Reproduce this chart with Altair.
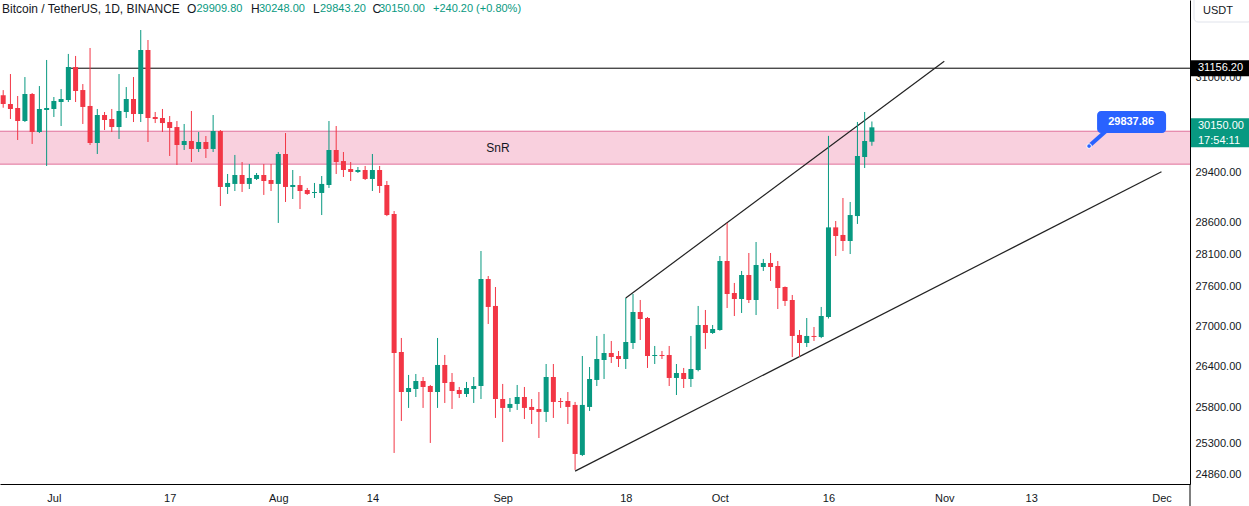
import altair as alt
import pandas as pd

# ---------------- data ----------------
dates = pd.date_range("2023-06-24", "2023-10-22", freq="D").strftime("%Y-%m-%d").tolist()

opens = [30690, 30543, 30476, 30256, 30713, 30072, 30442, 30459, 30577, 30611,
         31177, 30781, 30510, 29889, 30357, 30290, 30155, 30408, 30628, 30374,
         31473, 30324, 30307, 30239, 30155, 29856, 29922, 29790, 29906, 29790,
         30089, 29168, 29217, 29363, 29217, 29298, 29363, 29281, 29217, 29707,
         29168, 29200, 29119, 29071, 29071, 29200, 29773, 29591, 29460, 29412,
         29444, 29298, 29444, 29200, 28733, 26614, 26029, 26073, 26189, 26116,
         26029, 26423, 26175, 26058, 26000, 26073, 26116, 27715, 27303, 25928,
         25800, 25857, 25957, 25814, 25785, 25743, 26247, 25900, 25900, 25843,
         25135, 25814, 26204, 26496, 26599, 26555, 26511, 26747, 27212, 27121,
         26555, 26570, 26570, 26233, 26305, 26218, 26349, 27016, 26896, 26941,
         27993, 27500, 27409, 27777, 27394, 27900, 27962, 27916, 27592, 27394,
         26867, 26747, 26852, 26837, 27136, 28521, 28401, 28306, 28701, 29657,
         29909.8]
highs = [30780, 31056, 30679, 31004, 30730, 30849, 31299, 30662, 30798, 31404,
         31369, 30883, 31508, 30459, 30408, 30459, 31056, 30832, 31004, 31824,
         31648, 30408, 30459, 30340, 30256, 30206, 30425, 30072, 30005, 30357,
         30105, 29379, 29691, 29575, 29542, 29395, 29542, 29542, 29740, 30055,
         29444, 29346, 29152, 29233, 29346, 30256, 30172, 29740, 29575, 29493,
         29510, 29707, 29510, 29265, 28781, 26822, 26277, 26291, 26247, 26131,
         26822, 26570, 26305, 26102, 26175, 26247, 28149, 27761, 27592, 26146,
         25943, 26131, 26102, 25928, 26029, 26437, 26437, 25943, 26029, 25886,
         26555, 26393, 26852, 26882, 26777, 26629, 27424, 27485, 27394, 27136,
         26703, 26629, 26703, 26437, 26379, 26852, 27303, 27242, 27016, 28071,
         28590, 27654, 27839, 28118, 28290, 28025, 28118, 27993, 27600, 27470,
         26941, 27121, 26986, 27288, 30007, 28622, 28990, 28926, 30240, 30408,
         30248.0]
lows = [30480, 30290, 29939, 30239, 29873, 30055, 29510, 30324, 30172, 30577,
        30577, 30206, 29856, 29707, 30105, 30072, 29956, 30307, 30239, 30239,
        29906, 30222, 30072, 29674, 29526, 29773, 29575, 29740, 29641, 29740,
        28861, 29055, 29103, 29087, 29135, 29281, 29039, 29103, 28591, 28926,
        28974, 28813, 29040, 28990, 28717, 29152, 29379, 29330, 29265, 29395,
        29281, 29103, 29071, 28700, 25163, 25614, 25800, 25957, 25800, 25303,
        25800, 25871, 25785, 25943, 25957, 25871, 25928, 27031, 25657, 25317,
        25743, 25771, 25642, 25571, 25373, 25599, 25657, 25800, 25571, 24927,
        25120, 25757, 26116, 26218, 26452, 26393, 26364, 26659, 26792, 26379,
        26437, 26511, 26116, 25986, 26087, 26102, 26330, 26659, 26882, 26930,
        27272, 27151, 27197, 27348, 27166, 27839, 27685, 27257, 27303, 26540,
        26540, 26688, 26777, 26820, 27113, 28071, 28149, 28102, 28575, 29477,
        29843.2]
closes = [30545, 30459, 30256, 30713, 30072, 30459, 30476, 30594, 30628, 31177,
          30764, 30493, 29889, 30357, 30273, 30155, 30425, 30628, 30374, 31473,
          30307, 30290, 30222, 30139, 29856, 29922, 29790, 29906, 29790, 30089,
          29168, 29233, 29363, 29217, 29314, 29363, 29265, 29217, 29707, 29168,
          29200, 29103, 29055, 29087, 29217, 29773, 29575, 29444, 29412, 29444,
          29298, 29444, 29184, 28717, 26599, 26029, 26087, 26189, 26102, 26029,
          26423, 26160, 26044, 26000, 26087, 26116, 27715, 27288, 25928, 25800,
          25857, 25957, 25800, 25771, 25743, 26247, 25886, 25886, 25814, 25149,
          25843, 26218, 26511, 26599, 26540, 26511, 26762, 27212, 27106, 26555,
          26570, 26555, 26233, 26305, 26218, 26364, 27016, 26896, 26956, 27993,
          27485, 27409, 27777, 27394, 27931, 27962, 27900, 27577, 27379, 26852,
          26747, 26852, 26837, 27151, 28521, 28385, 28306, 28717, 29674, 29922,
          30150.0]

# drawings on the chart
trend_ids = ["upper", "upper", "lower", "lower"]
trend_dates = ["2023-09-18", "2023-11-01", "2023-09-11", "2023-12-01"]
trend_prices = [27424, 31278, 24910, 29416]

snr_low, snr_high = 29540, 30085
hline_price = 31156.20
hline_start = "2023-07-03"
last_close = 30150.00
callout_price = 29837.86

price_ticks = [24860, 25300, 25800, 26400, 27000, 27600, 28100, 28600, 29400, 31000]
title_parts = [
    ("Bitcoin / TetherUS, 1D, BINANCE", "dark"), ("O", "dark"), ("29909.80", "up"),
    ("H", "dark"), ("30248.00", "up"), ("L", "dark"), ("29843.20", "up"),
    ("C", "dark"), ("30150.00", "up"), ("+240.20 (+0.80%)", "up"),
]

# ---------------- styling ----------------
UP = "#089981"
DOWN = "#F23645"
DARK = "#131722"
BLUE = "#2962FF"
BAND_FILL = "#F9D0DE"
BAND_LINE = "#E0709A"
FONT = "Liberation Sans"
W, H = 1190, 484
title_x = [2, 187, 196.5, 251, 259, 313, 320, 372.5, 379, 433]
title_size = [12, 12, 11, 12, 11, 12, 11, 12, 11, 11]

df = pd.DataFrame({"date": dates, "open": opens, "high": highs, "low": lows, "close": closes})
df["dir"] = ["up" if c >= o else "down" for o, c in zip(opens, closes)]

trend_df = pd.DataFrame({"id": trend_ids, "date": trend_dates, "price": trend_prices})

xscale = alt.Scale(
    type="utc",
    domain=[alt.DateTime(year=2023, month=6, date=24, hours=6, utc=True),
            alt.DateTime(year=2023, month=12, date=4, hours=6, utc=True)],
)
yscale = alt.Scale(type="log", domain=[24733, 32359], nice=False)

tick_dates = [(7, 1), (7, 17), (8, 1), (8, 14), (9, 1), (9, 18), (10, 1), (10, 16),
              (11, 1), (11, 13), (12, 1)]
xaxis = alt.Axis(
    orient="bottom", title=None, ticks=False, grid=False,
    values=[alt.DateTime(year=2023, month=m, date=d, utc=True) for m, d in tick_dates],
    labelExpr="utcdate(datum.value) == 1 ? utcFormat(datum.value, '%b') : utcFormat(datum.value, '%d')",
    domainColor="#000000", domainWidth=1, labelColor=DARK, labelFont=FONT,
    labelFontSize=11, labelPadding=8, labelFlush=False, labelOverlap=False,
)
yaxis = alt.Axis(
    orient="right", title=None, ticks=False, grid=False, values=price_ticks,
    format=".2f", domainColor="#000000", domainWidth=1, labelColor=DARK,
    labelFont=FONT, labelFontSize=11, labelPadding=5, labelOverlap=False,
    labelFlush=False,
)
color = alt.Color("dir:N", scale=alt.Scale(domain=["up", "down"], range=[UP, DOWN]), legend=None)
one = pd.DataFrame({"k": [0]})

band = alt.Chart(one).mark_rect(color=BAND_FILL).encode(
    x=alt.value(0), x2=alt.value("width"),
    y=alt.YDatum(snr_low, scale=yscale, axis=yaxis), y2=alt.datum(snr_high),
)
band_lines = alt.Chart(pd.DataFrame({"p": [snr_low, snr_high]})).mark_rule(
    color=BAND_LINE, strokeWidth=1).encode(y=alt.Y("p:Q", scale=yscale, axis=yaxis))
snr_text = alt.Chart(one).mark_text(text="SnR", font=FONT, fontSize=12, color=DARK).encode(
    x=alt.XDatum(alt.DateTime(year=2023, month=8, date=31, hours=8, utc=True), scale=xscale, axis=xaxis),
    y=alt.datum((snr_low * snr_high) ** 0.5),
)
hline = alt.Chart(pd.DataFrame({"d": [hline_start], "p": [hline_price]})).mark_rule(
    color="#000000", strokeWidth=1).encode(
    x=alt.X("d:T", scale=xscale, axis=xaxis), x2=alt.value("width"),
    y=alt.Y("p:Q", scale=yscale, axis=yaxis))

wicks = alt.Chart(df).mark_rule(strokeWidth=1, clip=True).encode(
    x=alt.X("date:T", scale=xscale, axis=xaxis),
    y=alt.Y("low:Q", scale=yscale, axis=yaxis), y2="high:Q", color=color,
)
bodies = alt.Chart(df).mark_bar(size=5, clip=True).encode(
    x=alt.X("date:T", scale=xscale, axis=xaxis),
    y=alt.Y("open:Q", scale=yscale, axis=yaxis), y2="close:Q", color=color,
)
trends = alt.Chart(trend_df).mark_line(color="#222222", strokeWidth=1.2).encode(
    x=alt.X("date:T", scale=xscale, axis=xaxis),
    y=alt.Y("price:Q", scale=yscale, axis=yaxis), detail="id:N",
)

# callout
anchor_x = alt.DateTime(year=2023, month=11, date=21, utc=True)
tail = alt.Chart(one).mark_rule(color=BLUE, strokeWidth=4, x2Offset=18, y2Offset=-16).encode(
    x=alt.datum(anchor_x), x2=alt.datum(anchor_x),
    y=alt.datum(callout_price), y2=alt.datum(callout_price),
)
cbox = alt.Chart(one).mark_rect(color=BLUE, cornerRadius=4, xOffset=8, x2Offset=77,
                                yOffset=-35, y2Offset=-13).encode(
    x=alt.datum(anchor_x), x2=alt.datum(anchor_x),
    y=alt.datum(callout_price), y2=alt.datum(callout_price),
)
ctext = alt.Chart(one).mark_text(text="29837.86", color="white", font=FONT, fontSize=11,
                                 fontWeight="bold", dx=42, dy=-24).encode(
    x=alt.datum(anchor_x), y=alt.datum(callout_price))
cdot = alt.Chart(one).mark_circle(size=22, color=BLUE, opacity=1, stroke="white", strokeWidth=1).encode(
    x=alt.datum(anchor_x), y=alt.datum(callout_price))

# price scale labels
hbox = alt.Chart(one).mark_rect(color="#000000", yOffset=-8, y2Offset=8).encode(
    x=alt.value(W + 1), x2=alt.value(1249), y=alt.datum(hline_price), y2=alt.datum(hline_price))
htext = alt.Chart(one).mark_text(text="31156.20", color="white", font=FONT, fontSize=11,
                                 align="left").encode(x=alt.value(1198), y=alt.datum(hline_price))
gbox = alt.Chart(one).mark_rect(color=UP, yOffset=-9, y2Offset=20).encode(
    x=alt.value(W + 1), x2=alt.value(1249), y=alt.datum(last_close), y2=alt.datum(last_close))
gtext1 = alt.Chart(one).mark_text(text="30150.00", color="white", font=FONT, fontSize=11,
                                  align="left", dy=-1).encode(x=alt.value(1198), y=alt.datum(last_close))
gtext2 = alt.Chart(one).mark_text(text="17:54:11", color="white", font=FONT, fontSize=11,
                                  align="left", dy=14).encode(x=alt.value(1198), y=alt.datum(last_close))

usdt_box = alt.Chart(one).mark_rect(fill="white", stroke="#E0E3EB", strokeWidth=1, cornerRadius=4).encode(
    x=alt.value(1194), x2=alt.value(1252), y=alt.value(-4), y2=alt.value(22))
usdt_text = alt.Chart(one).mark_text(text="USDT", color=DARK, font=FONT, fontSize=11, align="left").encode(
    x=alt.value(1203), y=alt.value(11))
corner_line = alt.Chart(one).mark_rule(color="#000000", strokeWidth=1).encode(
    x=alt.value(W), y=alt.value(H), y2=alt.value(506))

title_layers = [
    alt.Chart(one).mark_text(text=t, color=(UP if c == "up" else DARK), font=FONT, fontSize=fs,
                             align="left", baseline="middle").encode(x=alt.value(px), y=alt.value(9))
    for (t, c), px, fs in zip(title_parts, title_x, title_size)
]

chart = alt.layer(
    band, band_lines, hline, snr_text, trends, wicks, bodies,
    tail, cbox, ctext, cdot,
    hbox, htext, gbox, gtext1, gtext2, usdt_box, usdt_text, corner_line,
    *title_layers,
).properties(
    width=W, height=H,
    autosize=alt.AutoSizeParams(type="none"),
    padding={"left": 0, "top": 0, "right": 1249 - W, "bottom": 506 - H},
    background="white",
).configure_view(strokeWidth=0)

chart.save("out.html", embed_options={"renderer": "svg", "actions": False})
